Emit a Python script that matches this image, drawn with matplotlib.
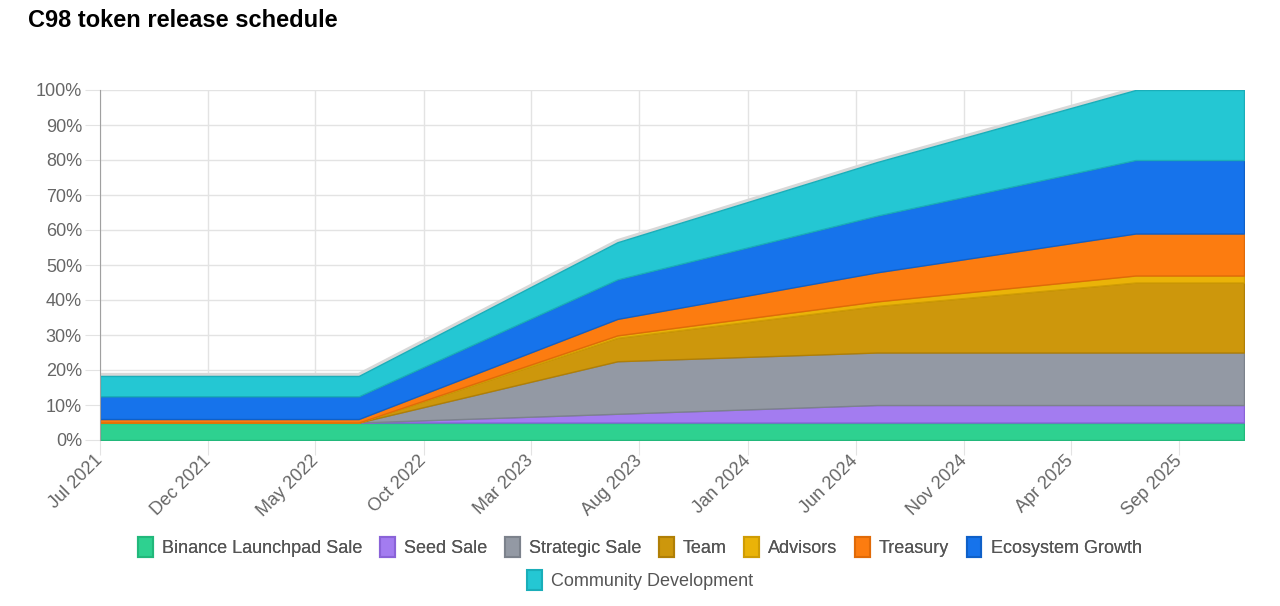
import numpy as np
import pandas as pd
import matplotlib
matplotlib.use('Agg')
import matplotlib.pyplot as plt
import matplotlib.dates as mdates
from matplotlib.patches import Patch
from matplotlib.ticker import FuncFormatter

plt.rcParams['font.family'] = ['Liberation Sans', 'DejaVu Sans']

# cumulative % of supply unlocked per allocation
dates = pd.to_datetime(['2021-07-01', '2022-07-01', '2023-07-01', '2024-07-01',
                        '2025-07-01', '2025-12-01'])
binance = [5, 5, 5, 5, 5, 5]
seed = [0, 0, 2.5, 5, 5, 5]
strategic = [0, 0, 15, 15, 15, 15]
team = [0, 0, 6.7, 13.3, 20, 20]
advisors = [0, 0, 0.7, 1.3, 2, 2]
treasury = [1, 1, 4.7, 8.3, 12, 12]
ecosystem = [6.5, 6.5, 11.3, 16.2, 21, 21]
community = [5.8, 5.8, 10.6, 15.3, 20, 20]

labels = ['Binance Launchpad Sale', 'Seed Sale', 'Strategic Sale', 'Team',
          'Advisors', 'Treasury', 'Ecosystem Growth', 'Community Development']
colors = ['#2ed190', '#a37cf0', '#9399a4', '#cd970c',
          '#eab308', '#fc7c10', '#1673eb', '#24c7d3']
edges = ['#22b87b', '#8a63d8', '#7c828c', '#b07f06',
         '#cf9c04', '#e06a08', '#0f60c8', '#1aaeb9']

tick_dates = pd.date_range('2021-07-01', periods=11, freq='5MS')

series = [binance, seed, strategic, team, advisors, treasury, ecosystem, community]

fig = plt.figure(figsize=(12.8, 6.06), dpi=100)
ax = fig.add_axes([100 / 1280, 1 - 440 / 606, 1144 / 1280, 350 / 606])

total = np.sum(series, axis=0)
ax.plot(dates, total + 0.4, color='#d8d8d8', lw=2.5, zorder=1)

polys = ax.stackplot(dates, *series, colors=colors, zorder=2)
for p, e in zip(polys, edges):
    p.set_edgecolor(e)
    p.set_linewidth(1.0)

ax.set_xlim(dates[0], dates[-1])
ax.set_ylim(0, 100)
ax.set_yticks(np.arange(0, 101, 10))
ax.yaxis.set_major_formatter(FuncFormatter(lambda v, p: f'{v:.0f}%'))
ax.set_xticks(tick_dates)
ax.xaxis.set_major_formatter(mdates.DateFormatter('%b %Y'))

ax.grid(True, color='#e3e3e3', lw=1, zorder=0)
ax.set_axisbelow(True)
ax.tick_params(axis='both', length=11, color='#e3e3e3', labelcolor='#666666',
               labelsize=13, pad=2)
plt.setp(ax.get_xticklabels(), rotation=45, ha='right', va='center',
         rotation_mode='anchor')
for s in ['top', 'right', 'bottom']:
    ax.spines[s].set_visible(False)
ax.spines['left'].set_color('#a0a0a0')

fig.text(0.022, 0.966, 'C98 token release schedule', fontsize=17,
         fontweight='bold', va='center', ha='left')

handles = [Patch(facecolor=c, edgecolor=e, lw=1.5) for c, e in zip(colors, edges)]
leg1 = fig.legend(handles[:7], labels[:7], loc='center', ncol=7,
                  bbox_to_anchor=(0.5, 1 - 547 / 606), frameon=False,
                  fontsize=13, handlelength=0.8, handleheight=1.3,
                  columnspacing=1.0, handletextpad=0.5, labelcolor='#555555')
leg2 = fig.legend(handles[7:], labels[7:], loc='center', ncol=1,
                  bbox_to_anchor=(0.5, 1 - 580 / 606), frameon=False,
                  fontsize=13, handlelength=0.8, handleheight=1.3,
                  handletextpad=0.5, labelcolor='#555555')
fig.add_artist(leg1)

fig.savefig('out.png', dpi=100)
